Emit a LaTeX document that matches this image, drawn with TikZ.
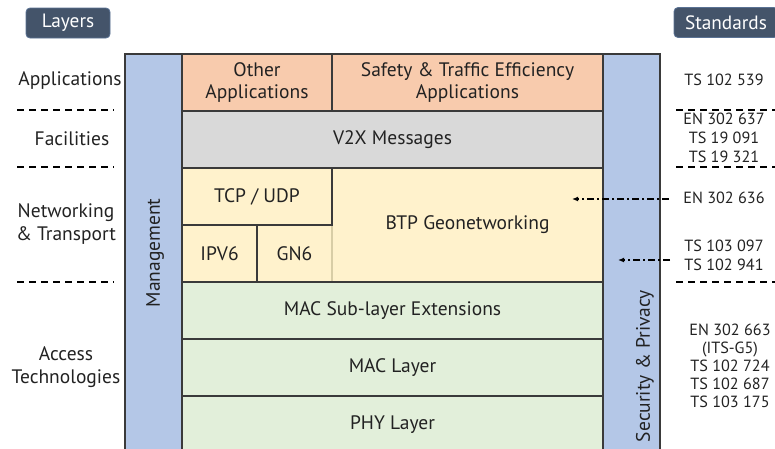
\documentclass[tikz,border=0pt]{standalone}
\usepackage{fontspec}
\setmainfont{PT Sans}
\usetikzlibrary{arrows.meta}

\definecolor{sidebar}{HTML}{B4C7E7}
\definecolor{appfill}{HTML}{F8CBAD}
\definecolor{msgfill}{HTML}{D9D9D9}
\definecolor{netfill}{HTML}{FFF2CC}
\definecolor{accfill}{HTML}{E2EFDA}
\definecolor{badgefill}{HTML}{44546A}
\definecolor{badgeedge}{HTML}{5A7294}
\definecolor{edge}{HTML}{3A3A3A}
\definecolor{softedge}{HTML}{D8CDA6}
\definecolor{ink}{HTML}{222222}

\tikzset{
  cell/.style={draw=edge, line width=1.1pt, inner sep=0pt, align=center,
    text=ink, font=\fontsize{19.5}{21.6}\selectfont},
  sidecol/.style={draw=edge, line width=1.1pt, fill=sidebar, inner sep=0pt,
    minimum width=57pt},
  sidelabel/.style={rotate=90, text=ink, font=\fontsize{19.5}{21}\selectfont},
  layerlabel/.style={align=center, text=ink, font=\fontsize{19.5}{23}\selectfont},
  stdlabel/.style={align=center, text=ink, inner sep=2pt,
    font=\fontsize{16.2}{19.3}\selectfont},
  badge/.style={fill=badgefill, draw=badgeedge, line width=0.8pt,
    rounded corners=4pt, text=white, inner sep=0pt,
    minimum height=30pt, font=\fontsize{19.3}{21}\selectfont},
  divider/.style={line width=1.2pt, dash pattern=on 7pt off 5pt},
  link/.style={line width=1.2pt, dash pattern=on 7pt off 3pt on 2pt off 3pt,
    -{Latex[length=6pt,width=5pt]}}
}

\begin{document}
\begin{tikzpicture}[x=1pt,y=-1pt]
\useasboundingbox (0,0) rectangle (775,448);
\clip (0,0) rectangle (775,448);

% headings
\node[badge, minimum width=84pt] (layers) at (68,23) {Layers};
\node[badge, minimum width=104pt] (standards) at (726,22.5) {Standards};

% side columns
\node[sidecol, minimum height=416pt] (mgmt) at (153.5,262) {};
\node[sidecol, minimum height=416pt] (sec) at (631.5,262) {};
\node[sidelabel] (mgmtlabel) at (155,253) {Management};
\node[sidelabel] (seclabel) at (645,366) {Security \& Privacy};

% applications
\node[cell, fill=appfill, minimum width=150pt, minimum height=57pt]
  (other) at (257,82.5) {Other\\Applications};
\node[cell, fill=appfill, minimum width=271pt, minimum height=57pt]
  (safety) at (467.5,82.5) {Safety \& Traffic Efficiency\\Applications};

% facilities
\node[cell, fill=msgfill, minimum width=421pt, minimum height=57pt]
  (v2x) at (392.5,139.5) {V2X Messages};

% networking & transport
\node[cell, fill=netfill, minimum width=271pt, minimum height=114pt]
  (btp) at (467.5,225) {BTP Geonetworking};
\node[cell, fill=netfill, draw=softedge, minimum width=75pt, minimum height=57pt]
  (gn6) at (294.5,253.5) {GN6};
\node[cell, fill=netfill, minimum width=75pt, minimum height=57pt]
  (ipv6) at (219.5,253.5) {IPV6};
\node[cell, fill=netfill, minimum width=150pt, minimum height=57pt]
  (tcp) at (257,196.5) {TCP / UDP};

% access technologies
\node[cell, fill=accfill, minimum width=421pt, minimum height=57pt]
  (macext) at (392.5,310.5) {MAC Sub-layer Extensions};
\node[cell, fill=accfill, minimum width=421pt, minimum height=57pt]
  (mac) at (392.5,367.5) {MAC Layer};
\node[cell, fill=accfill, minimum width=421pt, minimum height=57pt]
  (phy) at (392.5,424.5) {PHY Layer};

% layer names
\node[layerlabel] (lapp) at (70,81) {Applications};
\node[layerlabel] (lfac) at (72,139) {Facilities};
\node[layerlabel] (lnet) at (66,224) {Networking\\\& Transport};
\node[layerlabel] (lacc) at (66,367) {Access\\Technologies};

% layer dividers
\coordinate (dl1a) at (17,110);  \coordinate (dl1b) at (114,110);
\coordinate (dl2a) at (17,167);  \coordinate (dl2b) at (114,167);
\coordinate (dl3a) at (17,282);  \coordinate (dl3b) at (114,282);
\coordinate (dr1a) at (676,110); \coordinate (dr1b) at (776,110);
\coordinate (dr2a) at (676,167); \coordinate (dr2b) at (776,167);
\coordinate (dr3a) at (676,282); \coordinate (dr3b) at (776,282);
\draw[divider] (dl1a) -- (dl1b);
\draw[divider] (dl2a) -- (dl2b);
\draw[divider] (dl3a) -- (dl3b);
\draw[divider] (dr1a) -- (dr1b);
\draw[divider] (dr2a) -- (dr2b);
\draw[divider] (dr3a) -- (dr3b);

% standards
\node[stdlabel] (s539) at (724,80) {TS 102 539};
\node[stdlabel] (s637) at (724,138) {EN 302 637\\TS 19 091\\TS 19 321};
\node[stdlabel] (s636) at (724,198) {EN 302 636};
\node[stdlabel] (s097) at (724,255.5) {TS 103 097\\TS 102 941};
\node[stdlabel, font=\fontsize{16.2}{18}\selectfont] (s663) at (730,366)
  {EN 302 663\\(ITS-G5)\\TS 102 724\\TS 102 687\\TS 103 175};

% references into the stack
\coordinate (btpin) at (572,199);
\coordinate (secin) at (618,260);
\draw[link] ([xshift=-12pt,yshift=-1pt]s636.west) -- (btpin);
\draw[link] ([xshift=-12pt,yshift=-4.5pt]s097.west) -- (secin);
\end{tikzpicture}
\end{document}
